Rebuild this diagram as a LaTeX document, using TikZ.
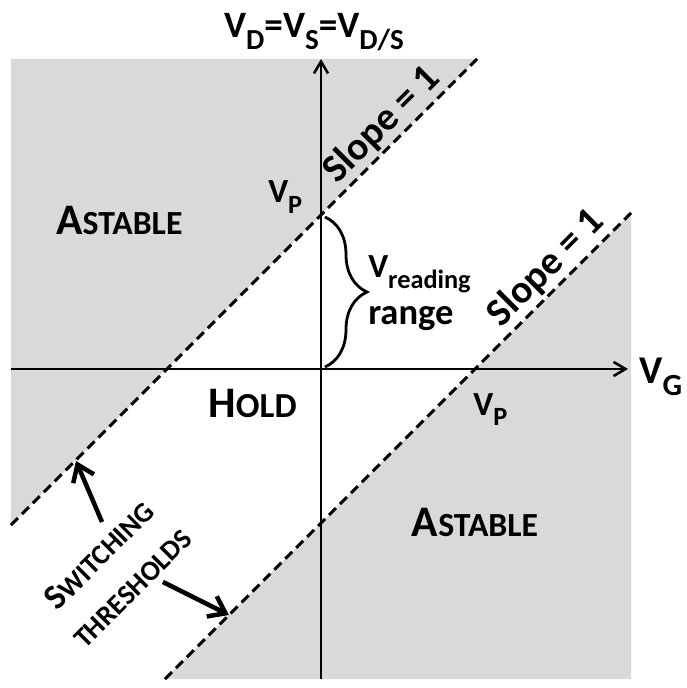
\documentclass[tikz,border=0pt]{standalone}
\usepackage{fontspec}
\setmainfont{Carlito}
\usetikzlibrary{arrows.meta,decorations.pathreplacing}

\definecolor{regiongray}{HTML}{D9D9D9}
% lowered, shrunk subscript in text font
\newcommand{\sub}[1]{\raisebox{-0.32em}{\scalebox{0.78}{#1}}}
% hand-made small caps: big first letter, smaller capitals after it
\newcommand{\bigsmall}[4]{{\fontsize{#1}{#1}\selectfont #2}{\fontsize{#3}{#3}\selectfont #4}}

\begin{document}
\begin{tikzpicture}[line width=1.8pt,
  fs/.style={inner sep=0pt, font=\fontsize{#1}{#1}\selectfont\bfseries},
  axis/.style={-{Straight Barb[length=8.5pt,width=10pt]}},
  threshold/.style={dash pattern=on 7pt off 4pt, line width=2.1pt},
  pointer/.style={line width=3.2pt, -{Straight Barb[length=11pt,width=16pt]}}]
  \useasboundingbox (-8.025,-7.975) rectangle (9.15,9.225);
  % Astable regions on either side of the hold band.
  \fill[regiongray] (-7.75,7.75) -- (3.9,7.75) -- (-7.75,-3.9) -- cycle;
  \fill[regiongray] (7.75,3.9) -- (7.75,-7.75) -- (-3.9,-7.75) -- cycle;
  % The two switching thresholds, both of slope one.
  \coordinate (upA) at (-7.75,-3.9);
  \coordinate (upB) at (3.9,7.75);
  \coordinate (loA) at (-3.9,-7.75);
  \coordinate (loB) at (7.75,3.9);
  \draw[threshold] (upA) -- (upB);
  \draw[threshold] (loA) -- (loB);
  % Axes.
  \coordinate (gmin) at (-7.75,0);
  \coordinate (gmax) at (7.675,0);
  \coordinate (dmin) at (0,-7.75);
  \coordinate (dmax) at (0,7.75);
  \draw[axis] (gmin) -- (gmax);
  \draw[axis] (dmin) -- (dmax);
  % Axis labels.
  \node[fs=26.5pt, anchor=base] (vtitle) at (-0.175,8.275) {V\sub{D}=V\sub{S}=V\sub{D/S}};
  \node[fs=28pt, anchor=base west] (vg) at (7.925,-0.35) {V\sub{G}};
  \node[fs=24pt, anchor=base west] (vpup) at (-1.35,4.15) {V\sub{P}};
  \node[fs=24pt, anchor=base west] (vplo) at (3.78,-1.15) {V\sub{P}};
  % Slope labels along the thresholds.
  \node[fs=28pt, rotate=45] (slopeup) at (1.52,6.1) {Slope = 1};
  \node[fs=28pt, rotate=45] (slopelo) at (5.62,2.52) {Slope = 1};
  % Region names.
  \node[fs=24pt, anchor=base west] (astup) at (-6.65,3.35) {\bigsmall{31pt}{A}{24pt}{STABLE}};
  \node[fs=24pt] (astlo) at (3.85,-3.83) {\bigsmall{31pt}{A}{24pt}{STABLE}};
  \node[fs=24pt, anchor=base east] (hold) at (-0.575,-1.2) {\bigsmall{31pt}{H}{25pt}{OLD}};
  % Reading range between origin and V_P.
  \coordinate (bt) at (0.1,3.8);
  \coordinate (bb) at (0.1,0.05);
  \draw[line width=2pt, decorate, decoration={brace, amplitude=1.05cm}] (bt) -- (bb);
  \node[fs=24pt, anchor=base west] (vread) at (1.15,2.275) {V\sub{reading}};
  \node[fs=26pt, anchor=base west] (vrange) at (1.15,1.1) {range};
  % Switching thresholds label and its pointers.
  \node[rotate=45, align=center, inner sep=0pt,
        font=\fontsize{20pt}{33pt}\selectfont\bfseries] (switch) at (-5.15,-5.05)
    {\bigsmall{25pt}{S}{20pt}{WITCHING}\\\bigsmall{20pt}{T}{20pt}{HRESHOLDS}};
  \coordinate (swA) at (-5.475,-3.825);
  \coordinate (hitup) at (-6.125,-2.3);
  \coordinate (swB) at (-3.95,-5.325);
  \coordinate (hitlo) at (-2.3,-6.15);
  \draw[pointer] (swA) -- (hitup);
  \draw[pointer] (swB) -- (hitlo);
\end{tikzpicture}
\end{document}
